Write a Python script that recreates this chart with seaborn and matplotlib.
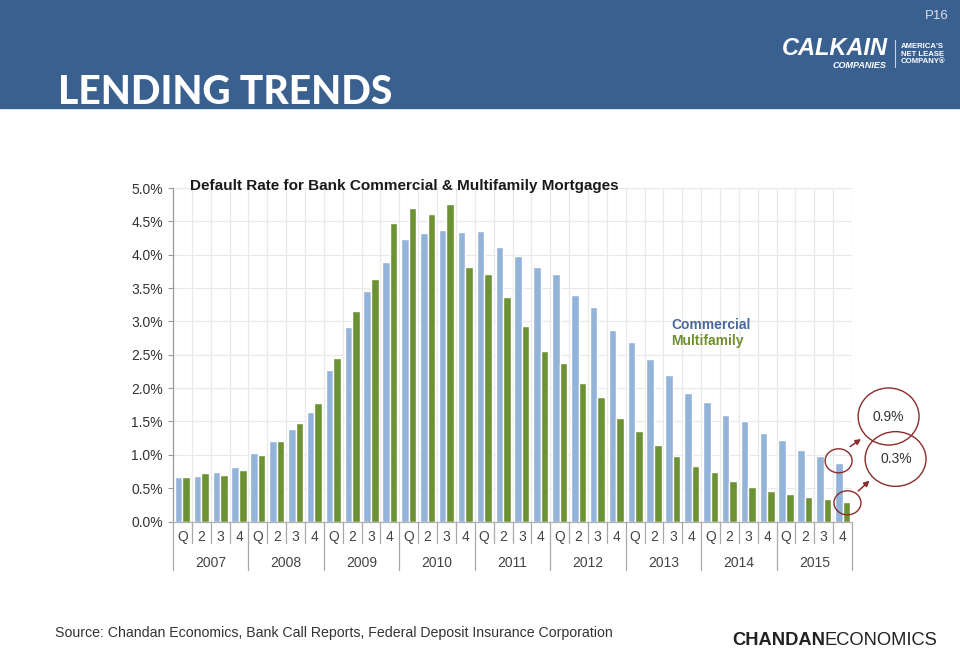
import numpy as np
import pandas as pd
import matplotlib
matplotlib.use("Agg")
import matplotlib.pyplot as plt
import seaborn as sns
from matplotlib.patches import Ellipse, Rectangle
from matplotlib.transforms import blended_transform_factory
from matplotlib.ticker import FuncFormatter, FixedLocator

# ---------------- data ----------------
years = [2007, 2008, 2009, 2010, 2011, 2012, 2013, 2014, 2015]
quarter_labels = ["Q", "2", "3", "4"]
commercial = [0.66, 0.68, 0.74, 0.81,
              1.03, 1.20, 1.38, 1.64,
              2.27, 2.91, 3.46, 3.89,
              4.24, 4.33, 4.37, 4.34,
              4.35, 4.11, 3.98, 3.82,
              3.71, 3.39, 3.21, 2.87,
              2.69, 2.43, 2.19, 1.92,
              1.79, 1.60, 1.50, 1.33,
              1.22, 1.07, 0.98, 0.87]
multifamily = [0.66, 0.72, 0.69, 0.77,
               1.00, 1.21, 1.47, 1.78,
               2.45, 3.15, 3.63, 4.47,
               4.70, 4.61, 4.76, 3.81,
               3.71, 3.37, 2.93, 2.55,
               2.38, 2.07, 1.86, 1.55,
               1.35, 1.15, 0.98, 0.83,
               0.74, 0.61, 0.51, 0.45,
               0.41, 0.36, 0.34, 0.29]
series_names = ["Commercial", "Multifamily"]
chart_title = "Default Rate for Bank Commercial & Multifamily Mortgages"
page_title = "LENDING TRENDS"
source_text = "Source: Chandan Economics, Bank Call Reports, Federal Deposit Insurance Corporation"

keys = [f"{y}Q{q}" for y in years for q in range(1, 5)]
df = pd.DataFrame({
    "quarter": keys * 2,
    "rate": commercial + multifamily,
    "series": [series_names[0]] * len(keys) + [series_names[1]] * len(keys),
})

BLUE = "#93b3d9"
GREEN = "#6c9233"
BANNER = "#3a6090"
RED = "#8c2b2b"

sns.set_theme(style="white")
plt.rcParams['font.family'] = ['Liberation Sans', 'DejaVu Sans']

fig = plt.figure(figsize=(9.6, 6.54), dpi=100)
fig.patch.set_facecolor("white")

W, H = 960, 654
ax = fig.add_axes([173 / W, 1 - 521.5 / H, (852 - 173) / W, (521.5 - 188) / H])

sns.barplot(data=df, x="quarter", y="rate", hue="series", order=keys,
            hue_order=series_names, palette=[BLUE, GREEN], width=0.8,
            saturation=1, legend=False, ax=ax)

n = len(keys)
ax.set_xlim(-0.5, n - 0.5)
ax.set_ylim(0, 5.0)
ax.set_xlabel("")
ax.set_ylabel("")

# grid
ax.set_yticks(np.arange(0, 5.01, 0.5))
ax.yaxis.set_major_formatter(FuncFormatter(lambda v, p: f"{v:.1f}%"))
ax.xaxis.set_minor_locator(FixedLocator(np.arange(-0.5, n, 1.0)))
ax.grid(True, which="major", axis="y", color="#e9e9e9", lw=0.9)
ax.grid(True, which="minor", axis="x", color="#e9e9e9", lw=0.9)
ax.set_axisbelow(True)

for s in ["top", "right"]:
    ax.spines[s].set_visible(False)
ax.spines["left"].set_color("#9a9a9a")
ax.spines["bottom"].set_color("#b0b0b0")
ax.spines["left"].set_linewidth(0.9)
ax.spines["bottom"].set_linewidth(0.9)

ax.tick_params(axis="y", which="major", left=True, length=3.6, width=0.8,
               color="#9a9a9a", labelsize=10, labelcolor="#333333", pad=3.6)
ax.set_xticks(range(n))
ax.set_xticklabels([quarter_labels[i % 4] for i in range(n)])
ax.tick_params(axis="x", which="both", length=0, labelsize=10,
               labelcolor="#444444", pad=6)

# separators under the axis
trans = blended_transform_factory(ax.transData, ax.transAxes)
q_len = (543 - 521.5) / (521.5 - 188)
y_len = (570 - 521.5) / (521.5 - 188)
for b in np.arange(-0.5, n, 1.0):
    is_year = (int(b + 0.5) % 4 == 0)
    ax.plot([b, b], [0, -(y_len if is_year else q_len)], transform=trans,
            color="#a8a8a8", lw=0.9, clip_on=False)
for k, yr in enumerate(years):
    ax.text(4 * k + 1.5, -(563 - 521.5) / (521.5 - 188), str(yr),
            transform=trans, ha="center", va="center", fontsize=10,
            color="#444444")

# chart title
ax.text(0.025, 1.006, chart_title, transform=ax.transAxes, ha="left",
        va="center", fontsize=11, fontweight="bold", color="#1a1a1a")

# legend text
ax.text((671 - 173) / 679, (521.5 - 325) / 333.5, series_names[0],
        transform=ax.transAxes, ha="left", va="center", fontsize=10,
        fontweight="bold", color="#4a6a9c")
ax.text((671 - 173) / 679, (521.5 - 341) / 333.5, series_names[1],
        transform=ax.transAxes, ha="left", va="center", fontsize=10,
        fontweight="bold", color="#6d8f2e")

# annotations
last = n - 1
ax.add_patch(Ellipse((last - 0.21, commercial[-1] + 0.04), 1.43, 0.36,
                     fill=False, ec=RED, lw=1.0, clip_on=False))
ax.add_patch(Ellipse((last + 0.26, multifamily[-1] - 0.01), 1.43, 0.36,
                     fill=False, ec=RED, lw=1.0, clip_on=False))
c1 = (last + 2.44, 1.574)
c2 = (last + 2.81, 0.937)
ax.add_patch(Ellipse(c1, 3.23, 0.855, fill=False, ec=RED, lw=1.0, clip_on=False))
ax.add_patch(Ellipse(c2, 3.23, 0.82, fill=False, ec=RED, lw=1.0, clip_on=False))
ax.text(c1[0], c1[1], f"{commercial[-1]:.1f}%", ha="center", va="center",
        fontsize=10, color="#333333", clip_on=False)
ax.text(c2[0] + 0.05, c2[1], f"{multifamily[-1]:.1f}%", ha="center", va="center",
        fontsize=10, color="#333333", clip_on=False)
ax.annotate("", xy=(last + 1.1, 1.26), xytext=(last + 0.28, 1.10),
            arrowprops=dict(arrowstyle="-|>", color=RED, lw=1.1,
                            mutation_scale=8), annotation_clip=False)
ax.annotate("", xy=(last + 1.54, 0.64), xytext=(last + 0.73, 0.43),
            arrowprops=dict(arrowstyle="-|>", color=RED, lw=1.1,
                            mutation_scale=8), annotation_clip=False)

# ---------------- header banner ----------------
fig.patches.append(Rectangle((0, 1 - 108 / H), 1, 108 / H,
                             transform=fig.transFigure, color=BANNER, zorder=0))
fig.text(58 / W, 1 - 104 / H, page_title, ha="left", va="baseline",
         fontsize=28, fontweight="black", family=["Lato", "DejaVu Sans"],
         color="white")
fig.text(949 / W, 1 - 16 / H, "P16", ha="right", va="center", fontsize=9.5,
         color="#d8dfe9")
fig.text(888 / W, 1 - 55 / H, "CALKAIN", ha="right", va="baseline",
         fontsize=17, fontweight="bold", fontstyle="italic", color="white")
fig.text(886 / W, 1 - 60.5 / H, "COMPANIES", ha="right", va="top",
         fontsize=6.5, fontweight="bold", fontstyle="italic", color="white")
fig.add_artist(plt.Line2D([895 / W, 895 / W], [1 - 40 / H, 1 - 67 / H],
                          transform=fig.transFigure, color="#c8d2e0", lw=0.8))
fig.text(901 / W, 1 - 54 / H, "AMERICA'S\nNET LEASE\nCOMPANY\u00ae", ha="left",
         va="center", fontsize=5.6, fontweight="bold", color="white",
         linespacing=1.05)

# ---------------- footer ----------------
fig.text(55 / W, 1 - 633 / H, source_text, ha="left", va="center",
         fontsize=10.2, color="#333333")
t1 = fig.text(732 / W, 1 - 645 / H, "CHANDAN", ha="left", va="baseline",
              fontsize=13.2, fontweight="bold", color="#222222")
ax.annotate("ECONOMICS", xy=(1, 0), xycoords=t1, ha="left", va="bottom",
            fontsize=13.2, color="#222222", annotation_clip=False)

fig.savefig("out.png", dpi=100, facecolor="white")
